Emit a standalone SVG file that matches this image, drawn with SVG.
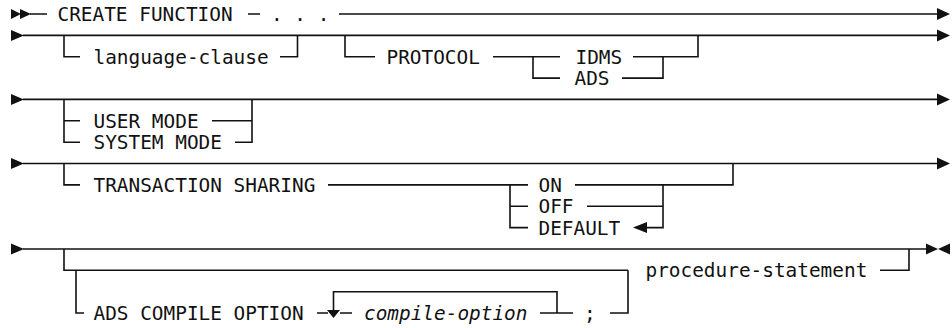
<svg xmlns="http://www.w3.org/2000/svg" width="952" height="328" viewBox="0 0 952 328">
<style>
  .t { font-family: "DejaVu Sans Mono", "Liberation Mono", monospace; font-size: 19.4px; fill: #111; }
  .i { font-style: italic; }
  .c { fill: none; stroke: #111; stroke-width: 1.6; }
  .a { fill: #111; stroke: none; }
</style>
<rect width="952" height="328" fill="#fff"/>
<g id="connectors">
  <path class="c" d="M30 14 H47 M248 14 H260 M339 14 H938"/>
  <path class="c" d="M23 35.4 H938"/>
  <path class="c" d="M64 35.4 V56.7 H80 M280 56.7 H297.5 V35.4"/>
  <path class="c" d="M345 35.4 V56.7 H375 M493 56.7 H560 M533 56.7 V78.1 H560 M622 78.1 H663 V56.7 M633 56.7 H698 V35.4"/>
  <path class="c" d="M23 99.4 H938"/>
  <path class="c" d="M64 99.4 V142.2 H80 M64 120.8 H80 M212 120.8 H252 M235 142.2 H252 V99.4"/>
  <path class="c" d="M23 163.5 H938"/>
  <path class="c" d="M64 163.5 V184.9 H80 M328 184.9 H528 M510 184.9 V227.6 H528 M510 206.2 H528 M575 184.9 H733 V163.5 M587 206.2 H663 M663 184.9 V227.6 H646"/>
  <path class="c" d="M23 249 H927"/>
  <path class="c" d="M64 249 V270.3 H628 M628 270.3 V313 H610 M880 270.3 H909 V249"/>
  <path class="c" d="M76 270.3 V313 H84 M317 313 H328 M340 313 H352 M540 313 H573 M557 313 V291.7 H333.5 V311"/>
  <polygon class="a" points="11,9 21,14 11,19"/>
  <polygon class="a" points="20,9 31,14 20,19"/>
  <polygon class="a" points="937,8 950,14 937,20"/>
  <polygon class="a" points="11,29.9 24,35.4 11,40.9"/>
  <polygon class="a" points="937,29.4 950,35.4 937,41.4"/>
  <polygon class="a" points="11,93.9 24,99.4 11,104.9"/>
  <polygon class="a" points="937,93.4 950,99.4 937,105.4"/>
  <polygon class="a" points="11,158 24,163.5 11,169"/>
  <polygon class="a" points="937,157.5 950,163.5 937,169.5"/>
  <polygon class="a" points="647,222.1 633,227.6 647,233.1"/>
  <polygon class="a" points="11,243.5 24,249 11,254.5"/>
  <polygon class="a" points="926,243.5 938,249 926,254.5"/>
  <polygon class="a" points="950,243.5 938,249 950,254.5"/>
  <polygon class="a" points="327,310 340,310 333.5,318"/>
</g>
<g id="create-function"><text class="t" x="57.5" y="21">CREATE FUNCTION</text><text class="t" x="271" y="21">. . .</text></g>
<g id="language-clause"><text class="t" x="93.5" y="63.7">language-clause</text></g>
<g id="protocol"><text class="t" x="386.5" y="63.7">PROTOCOL</text></g>
<g id="idms"><text class="t" x="575.5" y="63.7">IDMS</text></g>
<g id="ads"><text class="t" x="574.5" y="85.1">ADS</text></g>
<g id="user-mode"><text class="t" x="93.5" y="127.8">USER MODE</text></g>
<g id="system-mode"><text class="t" x="93.5" y="149.2">SYSTEM MODE</text></g>
<g id="transaction-sharing"><text class="t" x="93.5" y="191.9">TRANSACTION SHARING</text></g>
<g id="on"><text class="t" x="538.5" y="191.9">ON</text></g>
<g id="off"><text class="t" x="538.5" y="213.2">OFF</text></g>
<g id="default"><text class="t" x="538.5" y="234.6">DEFAULT</text></g>
<g id="procedure-statement"><text class="t" x="645.5" y="277.3">procedure-statement</text></g>
<g id="ads-compile-option"><text class="t" x="93.5" y="320">ADS COMPILE OPTION</text></g>
<g id="compile-option"><text class="t i" x="364" y="320">compile-option</text></g>
<g id="semicolon"><text class="t" x="584" y="320">;</text></g>
</svg>
